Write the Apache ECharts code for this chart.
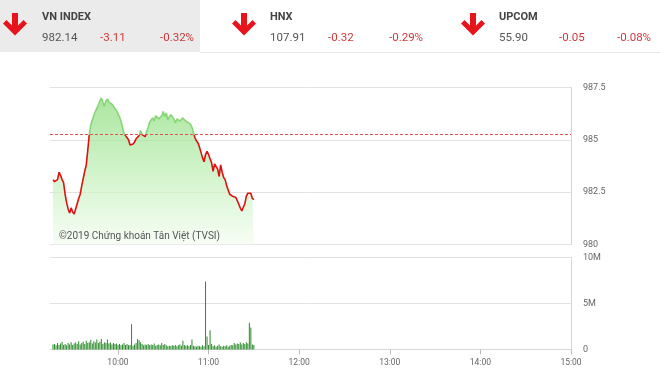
<!DOCTYPE html>
<html><head><meta charset="utf-8">
<script src="https://cdn.jsdelivr.net/npm/echarts@6/dist/echarts.min.js"></script>
<style>html,body{margin:0;padding:0;background:#fff}#c{width:660px;height:371px}</style>
</head><body><div id="c"></div>
<script>
// Header data
const indexNames = ['VN INDEX', 'HNX', 'UPCOM'];
const indexValues = ['982.14', '107.91', '55.90'];
const indexChanges = ['-3.11', '-0.32', '-0.05'];
const indexPercents = ['-0.32%', '-0.29%', '-0.08%'];

// Intraday data (VN INDEX, morning session)
const times = [
 '9:17','9:18','9:19','9:20','9:21','9:22','9:23','9:24','9:25','9:26','9:27','9:28','9:29','9:30',
 '9:31','9:32','9:33','9:34','9:35','9:36','9:37','9:38','9:39','9:40','9:41','9:42','9:43','9:44','9:45',
 '9:46','9:47','9:48','9:49','9:50','9:51','9:52','9:53','9:54','9:55','9:56','9:57','9:58','9:59',
 '10:00','10:01','10:02','10:03','10:04','10:05','10:06','10:07','10:08','10:09','10:10','10:11','10:12','10:13','10:14',
 '10:15','10:16','10:17','10:18','10:19','10:20','10:21','10:22','10:23','10:24','10:25','10:26','10:27','10:28','10:29',
 '10:30','10:31','10:32','10:33','10:34','10:35','10:36','10:37','10:38','10:39','10:40','10:41','10:42','10:43','10:44',
 '10:45','10:46','10:47','10:48','10:49','10:50','10:51','10:52','10:53','10:54','10:55','10:56','10:57','10:58','10:59',
 '11:00','11:01','11:02','11:03','11:04','11:05','11:06','11:07','11:08','11:09','11:10','11:11','11:12','11:13','11:14',
 '11:15','11:16','11:17','11:18','11:19','11:20','11:21','11:22','11:23','11:24','11:25','11:26','11:27','11:28','11:29','11:30'
];
const prices = [
 983.1,983.0,982.93,983.1,983.45,983.3,983.1,982.95,982.4,982.0,981.7,981.5,981.75,981.55,
 981.45,981.7,981.95,982.2,982.4,982.8,983.15,983.5,983.8,984.5,985.25,985.7,985.95,986.15,986.35,
 986.5,986.65,986.85,987.0,986.8,986.6,986.85,986.95,986.8,986.85,986.7,986.6,986.5,986.4,
 986.25,986.1,985.9,985.6,985.3,985.2,985.2,985.0,984.75,984.7,984.8,984.9,985.05,985.1,985.2,
 985.45,985.25,985.2,985.15,985.4,985.6,985.85,985.95,986.05,985.9,986.15,986.2,986.0,985.95,986.15,
 986.35,986.1,986.28,985.95,986.1,986.2,986.27,986.0,985.8,986.0,986.05,985.9,985.95,986.05,985.95,
 986.0,985.85,985.9,985.75,985.6,985.35,985.1,984.95,984.85,984.65,984.4,984.15,983.95,984.3,984.45,
 984.3,984.1,983.9,983.5,983.85,983.9,983.6,983.25,983.8,983.45,983.2,983.1,982.8,982.6,982.4,
 982.35,982.3,982.35,982.25,982.1,982.05,981.75,981.6,981.6,981.95,982.3,982.45,982.4,982.45,982.2,982.14
];
const volumesM = [
 0.55,0.6,0.45,0.7,0.5,0.65,0.85,0.5,0.6,0.45,0.7,0.55,0.8,0.5,
 0.65,0.75,0.6,0.9,0.55,0.7,0.85,0.6,0.95,0.7,0.8,1.05,0.65,0.9,0.75,
 1.1,0.7,0.85,1.15,0.6,0.8,0.7,1.1,0.65,0.75,0.55,0.7,0.6,0.65,0.5,
 0.6,0.45,0.55,0.7,0.5,0.6,0.45,0.5,2.75,0.4,0.55,0.7,1.15,1.0,0.8,
 0.6,0.45,0.55,0.5,0.6,0.45,0.55,0.5,0.65,0.4,0.5,0.55,0.45,0.7,0.5,
 0.6,0.45,0.35,0.4,0.35,0.45,0.4,0.5,0.35,0.45,0.55,0.4,0.95,0.5,0.4,
 0.45,0.35,0.5,1.1,0.4,0.35,0.3,0.4,0.35,0.3,0.45,0.35,7.4,1.4,0.5,
 2.1,0.6,0.35,0.45,0.3,0.4,0.55,0.35,0.3,0.4,0.35,0.45,0.3,0.4,0.5,
 0.45,0.7,0.55,0.65,0.6,0.75,0.55,0.7,0.6,0.8,0.65,2.9,2.4,0.55,0.5
];
const refPrice = 985.25;
const priceTicks = [980, 982.5, 985, 987.5];
const timeTickLabels = ['10:00', '11:00', '12:00', '13:00', '14:00', '15:00'];
const copyright = '©2019 Chứng khoán Tân Việt (TVSI)';

function toMin(s){ const p = s.split(':'); return +p[0]*60 + +p[1]; }
const xs = times.map(toMin);
const tickMins = timeTickLabels.map(toMin);
const priceData = xs.map((x,i)=>[x, prices[i]]);
const volData = xs.map((x,i)=>[x, volumesM[i]*1e6]);

function fmtMin(v){ const h = Math.floor(v/60), m = v%60; return h + ':' + (m<10?'0':'') + m; }

const chart = echarts.init(document.getElementById('c'), null, {renderer:'canvas'});

// header graphics
const red = '#e8141b';
const txtRed = '#d0393a';
const arrowX = [4, 233, 462];
const textX = [42, 270, 499];
const chgX = [100, 328, 559];
const pctX = [160, 389, 617];
function arrow(x0, y0){
  const p = [[8,0],[14,0],[14,12.5],[19.5,7],[23,10.5],[11,22.5],[-1,10.5],[2.5,7],[8,12.5]];
  return {type:'polygon', shape:{points:p.map(q=>[x0+q[0], y0+q[1]])}, style:{fill:red}, silent:true};
}
const graphics = [
  {type:'rect', shape:{x:0,y:0,width:200,height:52}, style:{fill:'#ebebeb'}, silent:true},
  {type:'line', shape:{x1:200,y1:52.5,x2:660,y2:52.5}, style:{stroke:'#e6e6e6', lineWidth:1}, silent:true}
];
indexNames.forEach((n,i)=>{
  graphics.push(arrow(arrowX[i], 13));
  graphics.push({type:'text', x:textX[i], y:17, style:{text:n, font:'bold 11px Roboto', fill:'#444', textVerticalAlign:'middle'}, silent:true});
  graphics.push({type:'text', x:textX[i], y:38, style:{text:indexValues[i], font:'11.5px Roboto', fill:'#555', textVerticalAlign:'middle'}, silent:true});
  graphics.push({type:'text', x:chgX[i], y:38, style:{text:indexChanges[i], font:'11.5px Roboto', fill:txtRed, textVerticalAlign:'middle'}, silent:true});
  graphics.push({type:'text', x:pctX[i], y:38, style:{text:indexPercents[i], font:'11.5px Roboto', fill:txtRed, textVerticalAlign:'middle'}, silent:true});
});
graphics.push({type:'text', x:59, y:236, style:{text:copyright, font:'10px Roboto', fill:'#555', textVerticalAlign:'middle'}, silent:true, z:100});

const xAxisCommon = {
  type:'value', min:555, max:900,
  splitLine:{show:false},
  axisLine:{show:false},
  axisTick:{show:false},
  axisLabel:{show:false}
};

chart.setOption({
  animation:false,
  graphic: graphics,
  grid:[
    {left:50, right:89, top:87.5, height:157},
    {left:50, right:89, top:257.5, height:92}
  ],
  xAxis:[
    Object.assign({}, xAxisCommon, {gridIndex:0}),
    Object.assign({}, xAxisCommon, {gridIndex:1,
      axisLine:{show:true, lineStyle:{color:'#d6d6d6'}},
      axisTick:{show:true, customValues:tickMins, length:5, lineStyle:{color:'#bbb'}},
      axisLabel:{show:true, customValues:tickMins, formatter:fmtMin, color:'#666', fontSize:8.5, fontFamily:'Roboto', margin:9}
    })
  ],
  yAxis:[
    {gridIndex:0, type:'value', position:'right', min:priceTicks[0], max:priceTicks[priceTicks.length-1], interval:2.5,
     axisLine:{show:true, lineStyle:{color:'#d6d6d6'}}, axisTick:{show:false},
     splitLine:{show:true, lineStyle:{color:'#e2e2e2'}},
     axisLabel:{color:'#666', fontSize:9, fontFamily:'Roboto', margin:12, formatter:v=>String(v)}},
    {gridIndex:1, type:'value', position:'right', min:0, max:10e6, interval:5e6,
     axisLine:{show:true, lineStyle:{color:'#d6d6d6'}}, axisTick:{show:false},
     splitLine:{show:true, lineStyle:{color:'#e2e2e2'}},
     axisLabel:{color:'#666', fontSize:9, fontFamily:'Roboto', margin:12, formatter:v=> v===0 ? '0' : (v/1e6)+'M'}}
  ],
  visualMap:[{
    show:false, type:'piecewise', seriesIndex:0, dimension:1,
    pieces:[{gte:970, lt:refPrice, color:'#de1010'},{gte:refPrice, lte:1000, color:'#86d676'}],
    outOfRange:{color:'#86d676'}
  }],
  series:[
    {type:'line', xAxisIndex:0, yAxisIndex:0, data:priceData, showSymbol:false, symbol:'none',
     lineStyle:{width:1.6},
     areaStyle:{origin:'start', color:new echarts.graphic.LinearGradient(0,0,0,1,[
       {offset:0, color:'#88da77'},{offset:0.5, color:'#bdeeb3'},{offset:1, color:'#f3fcf0'}])},
     markLine:{silent:true, symbol:'none', label:{show:false},
       lineStyle:{color:'#e05050', type:[3,2], width:1},
       data:[{yAxis:refPrice}]},
     z:3},
    {type:'bar', xAxisIndex:1, yAxisIndex:1, data:volData, barWidth:1, itemStyle:{color:'#2a8a2a'}}
  ]
});
</script></body></html>
